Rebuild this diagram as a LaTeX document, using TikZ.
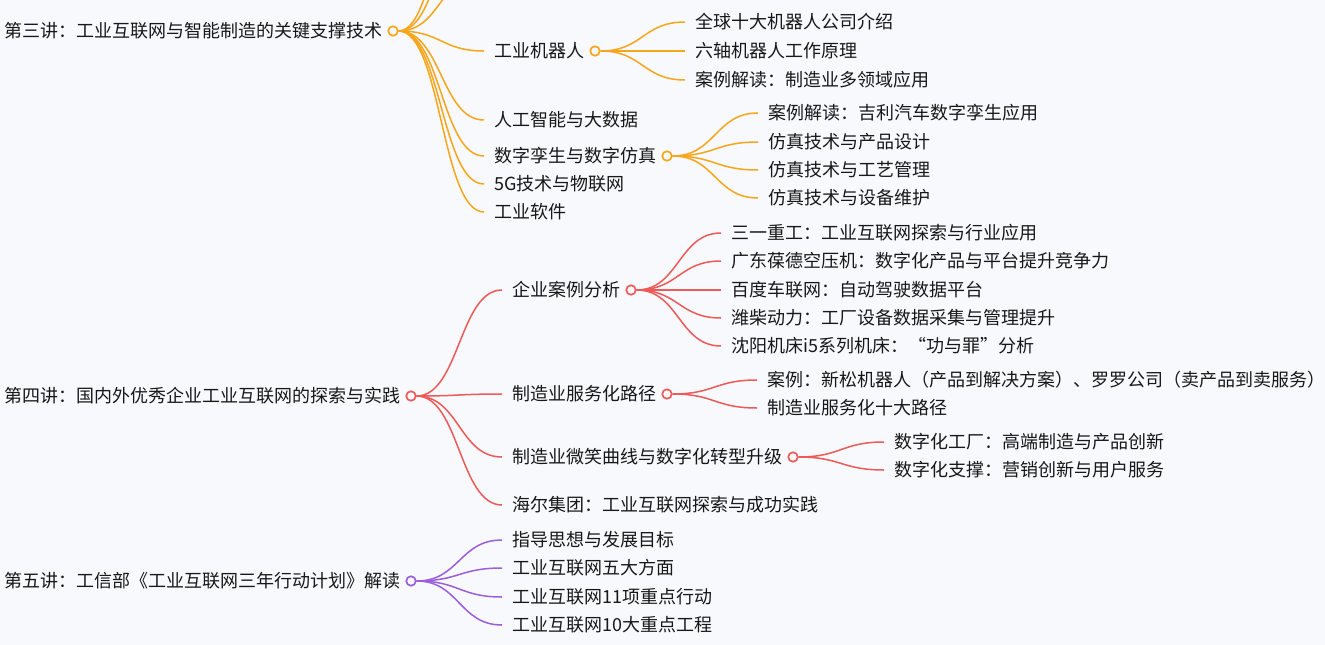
\documentclass[tikz,border=0pt]{standalone}
\usepackage{fontspec}
\setmainfont{Noto Sans CJK SC}
\usetikzlibrary{calc,positioning}
\definecolor{bg}{RGB}{248,249,252}
\definecolor{ink}{RGB}{24,24,24}
\definecolor{orangeL}{RGB}{247,166,28}
\definecolor{redL}{RGB}{236,90,90}
\definecolor{purpleL}{RGB}{155,95,220}
\begin{document}
\begin{tikzpicture}[x=1pt,y=-1pt,
  txt/.style={anchor=west, inner sep=0pt, text height=15.5pt, text depth=2pt,
    font=\fontsize{18pt}{21pt}\selectfont, text=ink},
  dot/.style={circle, line width=1.7pt, fill=bg, minimum size=9.5pt, inner sep=0pt, anchor=west},
  link/.style={line width=1.5pt, to path={let \p1=(\tikztostart), \p2=(\tikztotarget) in
    .. controls ({(\x1+\x2-10pt)/2},\y1) and ({(\x1+\x2-10pt)/2},\y2) .. ({\x2-10pt},\y2)}},
  ob/.style={draw=orangeL},
  rb/.style={draw=redL},
  pb/.style={draw=purpleL},
]
\fill[bg] (0,0) rectangle (1325,645);
\useasboundingbox (0,0) rectangle (1325,645);
\clip (0,0) rectangle (1325,645);

% ---------- Lecture 3 ----------
\node[txt] (r3) at (4,31) {第三讲：工业互联网与智能制造的关键支撑技术};
\node[dot, ob, right=5pt of r3] (c3) {};
\coordinate (u1) at (494,-28);
\coordinate (u2) at (494,-105);
\coordinate (u3) at (494,-176);
\node[txt] (a1) at (494,51) {工业机器人};
\node[dot, ob, right=5pt of a1] (ca1) {};
\node[txt] (a2) at (494,120) {人工智能与大数据};
\node[txt] (a3) at (494,156) {数字孪生与数字仿真};
\node[dot, ob, right=5pt of a3] (ca3) {};
\node[txt] (a4) at (494,184) {5G技术与物联网};
\node[txt] (a5) at (494,212) {工业软件};

\node[txt] (a11) at (695,22) {全球十大机器人公司介绍};
\node[txt] (a12) at (695,51) {六轴机器人工作原理};
\node[txt] (a13) at (695,80) {案例解读：制造业多领域应用};

\node[txt] (a31) at (768,113) {案例解读：吉利汽车数字孪生应用};
\node[txt] (a32) at (768,142) {仿真技术与产品设计};
\node[txt] (a33) at (768,170) {仿真技术与工艺管理};
\node[txt] (a34) at (768,198) {仿真技术与设备维护};

\foreach \t in {u1,u2,u3} \draw[link, ob] (c3.east) to (\t);
\foreach \t in {a1,a2,a3,a4,a5} \draw[link, ob] (c3.east) to (\t.west);
\foreach \t in {a11,a12,a13} \draw[link, ob] (ca1.east) to (\t.west);
\foreach \t in {a31,a32,a33,a34} \draw[link, ob] (ca3.east) to (\t.west);

% ---------- Lecture 4 ----------
\node[txt] (r4) at (4,396) {第四讲：国内外优秀企业工业互联网的探索与实践};
\node[dot, rb, right=5pt of r4] (c4) {};
\node[txt] (b1) at (512,290) {企业案例分析};
\node[dot, rb, right=5pt of b1] (cb1) {};
\node[txt] (b2) at (512,394) {制造业服务化路径};
\node[dot, rb, right=5pt of b2] (cb2) {};
\node[txt] (b3) at (512,457) {制造业微笑曲线与数字化转型升级};
\node[dot, rb, right=5pt of b3] (cb3) {};
\node[txt] (b4) at (512,505) {海尔集团：工业互联网探索与成功实践};

\node[txt] (b11) at (731,233) {三一重工：工业互联网探索与行业应用};
\node[txt] (b12) at (731,261) {广东葆德空压机：数字化产品与平台提升竞争力};
\node[txt] (b13) at (731,290) {百度车联网：自动驾驶数据平台};
\node[txt] (b14) at (731,318) {潍柴动力：工厂设备数据采集与管理提升};
\node[txt] (b15) at (731,346) {沈阳机床i5系列机床：“功与罪”分析};

\node[txt] (b21) at (767,380) {案例：新松机器人（产品到解决方案）、罗罗公司（卖产品到卖服务）};
\node[txt] (b22) at (767,408) {制造业服务化十大路径};

\node[txt] (b31) at (894,442) {数字化工厂：高端制造与产品创新};
\node[txt] (b32) at (894,470) {数字化支撑：营销创新与用户服务};

\foreach \t in {b1,b2,b3,b4} \draw[link, rb] (c4.east) to (\t.west);
\foreach \t in {b11,b12,b13,b14,b15} \draw[link, rb] (cb1.east) to (\t.west);
\foreach \t in {b21,b22} \draw[link, rb] (cb2.east) to (\t.west);
\foreach \t in {b31,b32} \draw[link, rb] (cb3.east) to (\t.west);

% ---------- Lecture 5 ----------
\node[txt] (r5) at (4,581) {第五讲：工信部《工业互联网三年行动计划》解读};
\node[dot, pb, right=5pt of r5] (c5) {};
\node[txt] (p1) at (512,540) {指导思想与发展目标};
\node[txt] (p2) at (512,568) {工业互联网五大方面};
\node[txt] (p3) at (512,597) {工业互联网11项重点行动};
\node[txt] (p4) at (512,625) {工业互联网10大重点工程};
\foreach \t in {p1,p2,p3,p4} \draw[link, pb] (c5.east) to (\t.west);
\end{tikzpicture}
\end{document}
